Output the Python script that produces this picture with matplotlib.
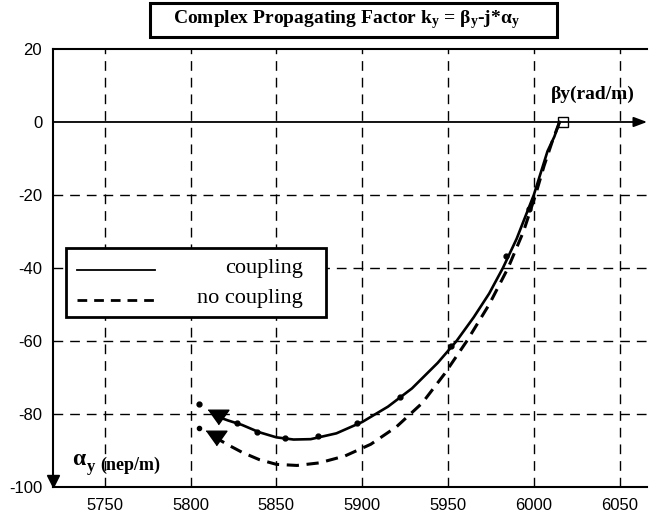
import numpy as np
import matplotlib
matplotlib.use("Agg")
import matplotlib.pyplot as plt
from matplotlib.patches import Rectangle
from matplotlib.lines import Line2D

plt.rcParams['mathtext.fontset'] = 'custom'
plt.rcParams['mathtext.rm'] = 'Liberation Serif'
plt.rcParams['mathtext.bf'] = 'Liberation Serif:bold'
plt.rcParams['mathtext.it'] = 'Liberation Serif:italic'
plt.rcParams['axes.unicode_minus'] = False

# --- data (beta_y in rad/m, alpha_y in nep/m) ---
beta_coupling = [6015, 6012, 6008, 6004, 6000, 5995, 5990, 5982, 5974, 5965, 5955,
                 5944, 5929, 5915, 5900, 5885, 5870, 5860, 5850, 5840, 5830, 5822, 5816]
alpha_coupling = [0, -4, -8, -14, -20, -26, -32, -40, -47, -53.5, -60,
                  -66, -73, -78, -82.2, -85.3, -86.9, -87.0, -86.4, -85.0, -83.0, -81.8, -80.8]

beta_nocoupling = [6015, 6011, 6006, 6001, 5994, 5985, 5974, 5961, 5948, 5935, 5920,
                   5905, 5890, 5875, 5862, 5850, 5840, 5830, 5822, 5815]
alpha_nocoupling = [0, -5, -12, -20, -30, -40, -50, -60, -69, -77, -83.5,
                    -88.3, -91.5, -93.4, -94.1, -93.8, -92.5, -90.5, -88.5, -86.6]

# sampled dots along the curves
dots_beta = [5997, 5984, 5952, 5922, 5897, 5874, 5855, 5839, 5827, 5805]
dots_alpha = [-23.8, -36.7, -61.3, -75.3, -82.4, -85.9, -86.5, -85.0, -82.4, -77.2]
dots_nc_beta = [5805]
dots_nc_alpha = [-83.9]

start_beta, start_alpha = 6017, 0

x_ticks = [5750, 5800, 5850, 5900, 5950, 6000, 6050]
y_ticks = [-100, -80, -60, -40, -20, 0, 20]

fig = plt.figure(figsize=(6.49, 5.19), dpi=100)
ax = fig.add_axes([0.0821, 0.0617, 0.9149, 0.8439])
ax.set_xlim(5720, 6066)
ax.set_ylim(-100, 20)

# dashed grid
for xv in x_ticks:
    ax.axvline(xv, color='black', lw=1.0, ls=(0, (7, 5)), zorder=1)
for yv in y_ticks[1:-2]:
    ax.axhline(yv, color='black', lw=1.0, ls=(0, (7, 5)), zorder=1)

# horizontal beta axis with arrow
ax.annotate('', xy=(6066, 0), xytext=(5720, 0),
            arrowprops=dict(arrowstyle='-|>,head_length=0.8,head_width=0.3',
                            color='black', lw=1.3, shrinkA=0, shrinkB=0),
            zorder=3, annotation_clip=False)

ax.plot(beta_coupling, alpha_coupling, color='black', lw=1.9, zorder=4)
ax.plot(beta_nocoupling, alpha_nocoupling, color='black', lw=2.2,
        ls=(0, (4, 2.5)), zorder=4)
ax.plot(dots_beta, dots_alpha, 'o', color='black', ms=3.5, zorder=5)
ax.plot(dots_nc_beta, dots_nc_alpha, 'o', color='black', ms=3, zorder=5)

tri = [(-1, 0.7), (1, 0.7), (0, -0.7)]
ax.plot(beta_coupling[-1], alpha_coupling[-1], marker=tri, color='black', ms=15, zorder=6)
ax.plot(beta_nocoupling[-1], alpha_nocoupling[-1], marker=tri, color='black', ms=15, zorder=6)
ax.plot(start_beta, start_alpha, marker='s', mfc='none', mec='black', ms=7.5,
        mew=1.0, zorder=6)

# axes frame
ax.spines['right'].set_visible(False)
for s in ['left', 'top', 'bottom']:
    ax.spines[s].set_linewidth(1.5)
ax.plot(5720, -98.3, marker='v', color='black', ms=8, clip_on=False, zorder=6)

ax.set_xticks(x_ticks)
ax.set_yticks(y_ticks)
ax.tick_params(length=0, labelsize=12, pad=8)
for lab in ax.get_xticklabels() + ax.get_yticklabels():
    lab.set_fontfamily('Liberation Sans')

ax.text(6010, 7.6, 'βy(rad/m)', fontsize=14, fontweight='bold',
        family='Liberation Serif', ha='left', va='center')
ax.text(5731, -92.5, 'α', fontsize=17, fontweight='bold',
        family='Liberation Serif', ha='left', va='center')
ax.text(5739.5, -94.5, 'y', fontsize=12, fontweight='bold',
        family='Liberation Serif', ha='left', va='center')
ax.text(5747.5, -94.2, '(nep/m)', fontsize=13, fontweight='bold',
        family='Liberation Serif', ha='left', va='center')

# legend box
fig.patches.append(Rectangle((66 / 649, 1 - 317 / 519), 260 / 649, 69 / 519,
                             transform=fig.transFigure, fill=True, fc='white',
                             ec='black', lw=2.0, zorder=10))
fig.lines.append(Line2D([77 / 649, 155 / 649], [1 - 270 / 519] * 2,
                        transform=fig.transFigure, color='black', lw=1.3, zorder=11))
fig.lines.append(Line2D([77 / 649, 155 / 649], [1 - 300 / 519] * 2,
                        transform=fig.transFigure, color='black', lw=2.0,
                        ls=(0, (3.5, 2.5)), zorder=11))
fig.text(303 / 649, 1 - 268 / 519, 'coupling', fontsize=16, family='Liberation Serif',
         ha='right', va='center', zorder=12)
fig.text(303 / 649, 1 - 298 / 519, 'no coupling', fontsize=16, family='Liberation Serif',
         ha='right', va='center', zorder=12)

# title box
fig.patches.append(Rectangle((150 / 649, 1 - 36.7 / 519), 406.7 / 649, 33.4 / 519,
                             transform=fig.transFigure, fill=False, ec='black', lw=2.2))
fig.text(173 / 649, 1 - 20 / 519,
         r'Complex Propagating Factor k$_{\mathbf{y}}$ = β$_{\mathbf{y}}$-j*α$_{\mathbf{y}}$',
         fontsize=14, fontweight='bold', family='Liberation Serif', ha='left', va='center')

fig.savefig('out.png', dpi=100)
